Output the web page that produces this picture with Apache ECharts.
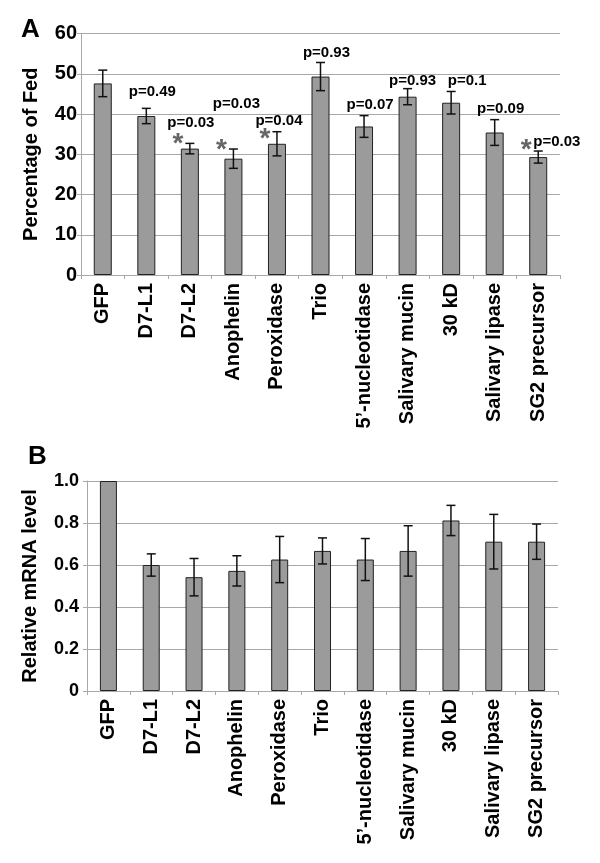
<!DOCTYPE html>
<html>
<head>
<meta charset="utf-8">
<script src="https://cdn.jsdelivr.net/npm/echarts@6/dist/echarts.min.js"></script>
<style>
  html, body { margin: 0; background: #fff; }
  #chart { width: 600px; height: 863px; }
</style>
</head>
<body>
<div id="chart"></div>
<script>
// categories shared by both panels
const genes = ['GFP', 'D7-L1', 'D7-L2', 'Anophelin', 'Peroxidase', 'Trio',
  '5\u2019-nucleotidase', 'Salivary mucin', '30 kD', 'Salivary lipase', 'SG2 precursor'];

// panel A: percentage of fed mosquitoes, with error
const fedPct = [47.6, 39.5, 31.4, 28.9, 32.6, 49.3, 36.9, 44.3, 42.8, 35.4, 29.3];
const fedErr = [3.3, 1.9, 1.3, 2.4, 3.0, 3.5, 2.7, 2.0, 2.8, 3.2, 1.5];
const pValues = ['', 'p=0.49', 'p=0.03', 'p=0.03', 'p=0.04', 'p=0.93',
  'p=0.07', 'p=0.93', 'p=0.1', 'p=0.09', 'p=0.03'];
// height (in % of fed) where each p label sits
const pLabelAt = [null, 45.5, 37.8, 42.6, 38.4, 55.3, 42.2, 48.2, 48.2, 41.3, 33.0];
// small sideways nudge of each p label, px
const pShift = [0, 6, 1, 3, 2, 6, 6, 5, 16, 6, -5];
// significant ones get a star, at this height
const starAt = [null, null, 34.0, 32.5, 35.2, null, null, null, null, null, 32.5];

// panel B: relative mRNA level, with error
const mrna = [1.0, 0.600, 0.542, 0.572, 0.626, 0.667, 0.626, 0.667, 0.812, 0.711, 0.711];
const mrnaErr = [0, 0.053, 0.089, 0.072, 0.11, 0.062, 0.10, 0.12, 0.072, 0.13, 0.084];

const yTicksA = { min: 0, max: 60, interval: 10 };
const yTicksB = { min: 0, max: 1, interval: 0.2 };

const FONT = '"Liberation Sans", Arial, sans-serif';
const GRIDLINE = '#a8a8a8';
const BAR = '#9b9b9b';

const chart = echarts.init(document.getElementById('chart'));

// little helpers for the axes, both panels look the same
const catAxis = (gridIndex, fontSize) => ({
  type: 'category',
  gridIndex,
  data: genes,
  axisLine: { lineStyle: { color: GRIDLINE, width: 1 } },
  axisTick: { show: true, length: 4, lineStyle: { color: GRIDLINE } },
  axisLabel: {
    interval: 0, rotate: 90, margin: 8,
    color: '#000', fontFamily: FONT, fontWeight: 'bold', fontSize
  }
});

const valAxis = (gridIndex, ticks, name, nameGap, fontSize, margin, fmt) => ({
  type: 'value',
  gridIndex,
  min: ticks.min, max: ticks.max, interval: ticks.interval,
  name,
  nameLocation: 'middle',
  nameGap,
  nameTextStyle: { color: '#000', fontFamily: FONT, fontWeight: 'bold', fontSize: 20 },
  axisLine: { show: true, lineStyle: { color: GRIDLINE, width: 1 } },
  axisTick: { show: true, length: 4, lineStyle: { color: GRIDLINE } },
  splitLine: { lineStyle: { color: GRIDLINE, width: 1 } },
  axisLabel: {
    margin, color: '#000', fontFamily: FONT, fontWeight: 'bold', fontSize,
    formatter: fmt
  }
});

// error bar drawer: vertical whisker + two caps
const errorBars = (axisIdx, values, errs) => ({
  type: 'custom',
  xAxisIndex: axisIdx,
  yAxisIndex: axisIdx,
  z: 5,
  data: values.map((v, i) => [i, v, errs[i]]).filter((d) => d[2] > 0),
  encode: { x: 0, y: 1 },
  renderItem: (params, api) => {
    const i = api.value(0), v = api.value(1), e = api.value(2);
    const hi = api.coord([i, v + e]);
    const lo = api.coord([i, v - e]);
    const cap = 4.5;
    const st = { stroke: '#111', lineWidth: 1.5 };
    return {
      type: 'group',
      children: [
        { type: 'line', shape: { x1: hi[0], y1: hi[1], x2: lo[0], y2: lo[1] }, style: st },
        { type: 'line', shape: { x1: hi[0] - cap, y1: hi[1], x2: hi[0] + cap, y2: hi[1] }, style: st },
        { type: 'line', shape: { x1: lo[0] - cap, y1: lo[1], x2: lo[0] + cap, y2: lo[1] }, style: st }
      ]
    };
  }
});

chart.setOption({
  animation: false,
  backgroundColor: '#fff',
  title: [
    { text: 'A', left: 16, top: 12, textStyle: { fontFamily: FONT, fontWeight: 'bold', fontSize: 26, color: '#000' } },
    { text: 'B', left: 23, top: 439, textStyle: { fontFamily: FONT, fontWeight: 'bold', fontSize: 26, color: '#000' } }
  ],
  grid: [
    { left: 81, top: 33.5, width: 479, height: 241.5 },
    { left: 87, top: 481, width: 471, height: 210 }
  ],
  xAxis: [catAxis(0, 20), catAxis(1, 20)],
  yAxis: [
    valAxis(0, yTicksA, 'Percentage of Fed', 40, 20, 4),
    valAxis(1, yTicksB, 'Relative mRNA level', 47, 18, 8,
      (v) => (v === 0 ? '0' : v.toFixed(1)))
  ],
  series: [
    {
      type: 'bar',
      xAxisIndex: 0, yAxisIndex: 0,
      data: fedPct,
      barWidth: 18,
      itemStyle: { color: BAR, borderColor: '#222', borderWidth: 1 }
    },
    errorBars(0, fedPct, fedErr),
    // p value labels
    {
      type: 'custom',
      xAxisIndex: 0, yAxisIndex: 0,
      z: 6,
      data: pLabelAt.map((y, i) => [i, y]).filter((d) => d[1] != null),
      encode: { x: 0, y: 1 },
      renderItem: (params, api) => {
        const i = api.value(0);
        const pt = api.coord([i, api.value(1)]);
        const last = i === genes.length - 1;
        return {
          type: 'text',
          x: pt[0] + pShift[i],
          y: pt[1],
          style: {
            text: pValues[i], fill: '#000',
            font: 'bold 15px ' + FONT,
            align: last ? 'left' : 'center', verticalAlign: 'middle'
          }
        };
      }
    },
    // stars for significant differences
    {
      type: 'custom',
      xAxisIndex: 0, yAxisIndex: 0,
      z: 6,
      data: starAt.map((y, i) => [i, y]).filter((d) => d[1] != null),
      encode: { x: 0, y: 1 },
      renderItem: (params, api) => {
        const pt = api.coord([api.value(0), api.value(1)]);
        return {
          type: 'text',
          x: pt[0] - 12,
          y: pt[1] + 6,
          style: {
            text: '*', fill: '#666',
            font: 'bold 28px ' + FONT,
            align: 'center', verticalAlign: 'middle'
          }
        };
      }
    },
    {
      type: 'bar',
      xAxisIndex: 1, yAxisIndex: 1,
      data: mrna,
      barWidth: 17,
      itemStyle: { color: BAR, borderColor: '#222', borderWidth: 1 }
    },
    errorBars(1, mrna, mrnaErr)
  ]
});
</script>
</body>
</html>
